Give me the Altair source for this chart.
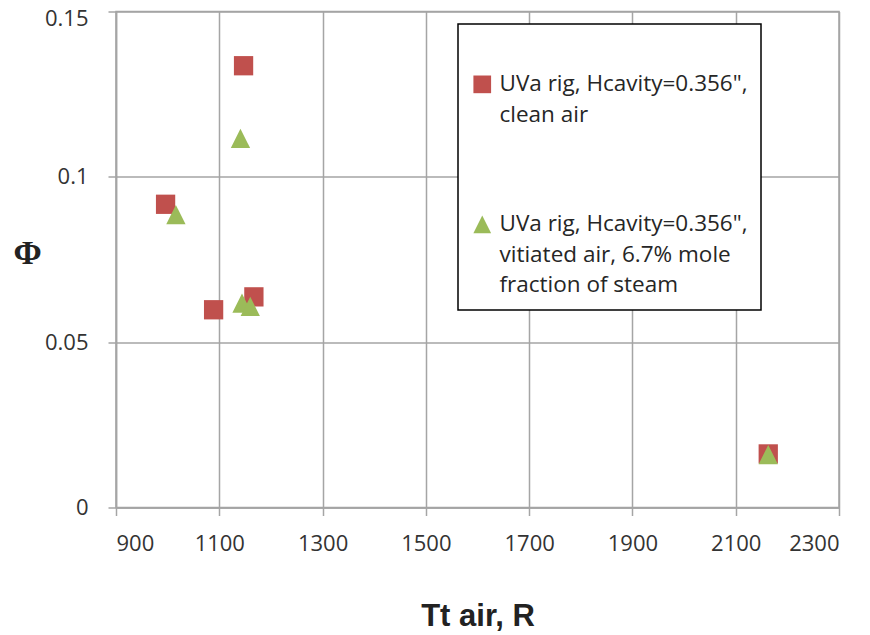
import altair as alt
import pandas as pd

# ---- data ----
clean_label = 'UVa rig, Hcavity=0.356",|clean air'
vit_label = 'UVa rig, Hcavity=0.356",|vitiated air,  6.7% mole|fraction of steam'

clean_x = [1147, 996, 1089, 1167, 2163]
clean_y = [0.1336, 0.0917, 0.0598, 0.0637, 0.0162]
vit_x = [1141, 1016, 1144, 1160, 2163]
vit_y = [0.1116, 0.0886, 0.0618, 0.0608, 0.0160]

x_ticks = [900, 1100, 1300, 1500, 1700, 1900, 2100, 2300]
y_ticks = [0, 0.05, 0.1, 0.15]

series = [clean_label, vit_label]
colors = ["#c0504d", "#9bbb59"]
shapes = ["square", "M0,-1L1,1L-1,1Z"]

df = pd.DataFrame({
    "x": clean_x + vit_x,
    "y": clean_y + vit_y,
    "series": [clean_label] * len(clean_x) + [vit_label] * len(vit_x),
})

GRID = "#a5a5a5"
FONT = "Open Sans"

chart = alt.Chart(df).mark_point(filled=True, opacity=1, size=372).encode(
    x=alt.X("x:Q",
            scale=alt.Scale(domain=[900, 2300], nice=False),
            axis=alt.Axis(values=x_ticks, format="d", title="Tt air, R",
                          titleFont="Liberation Sans", titleFontSize=31,
                          titleFontWeight="bold", titleColor="#222222",
                          titleBaseline="alphabetic", titleY=118,
                          labelPadding=18)),
    y=alt.Y("y:Q",
            scale=alt.Scale(domain=[0, 0.15], nice=False),
            axis=alt.Axis(values=y_ticks, format=".2~f", title="Φ",
                          titleFont="Liberation Serif", titleFontSize=34,
                          titleFontWeight="bold", titleColor="#222222",
                          titleAngle=0, titleAlign="center",
                          titleBaseline="alphabetic",
                          titleX=-89, titleY=252,
                          labelPadding=20,
                          labelOffset={"condition": {"test": "datum.value >= 0.149",
                                                     "value": 7},
                                       "value": 0})),
    color=alt.Color("series:N",
                    scale=alt.Scale(domain=series, range=colors),
                    legend=alt.Legend(
                        title=" ", titleFontSize=10, titlePadding=26,
                        orient="none", legendX=342, legendY=12.6,
                        labelExpr="split(datum.label, '|')",
                        labelFont=FONT, labelFontSize=22.5,
                        labelColor="#262626", labelLimit=400,
                        labelOffset=6, symbolSize=313,
                        rowPadding=86, padding=13,
                        strokeColor="#000000", fillColor="white",
                        symbolStrokeWidth=0, symbolOpacity=1)),
    shape=alt.Shape("series:N",
                    scale=alt.Scale(domain=series, range=shapes),
                    legend=None),
).properties(
    width=723, height=496,
    autosize="none",
    padding={"left": 108, "top": 3.5, "right": 22, "bottom": 125},
).configure(
    style={"guide-label": {"lineHeight": 30.5}},
).configure_axis(
    grid=True, gridColor=GRID, gridWidth=1.5,
    domainColor=GRID, domainWidth=1.5,
    tickColor=GRID, tickWidth=1.5, tickSize=8,
    labelFont=FONT, labelFontSize=22, labelColor="#333333",
).configure_view(
    stroke=GRID, strokeWidth=1.5,
).configure_legend(
    strokeWidth=1.5,
)

chart.save("out.html", embed_options={"renderer": "svg", "actions": False})
